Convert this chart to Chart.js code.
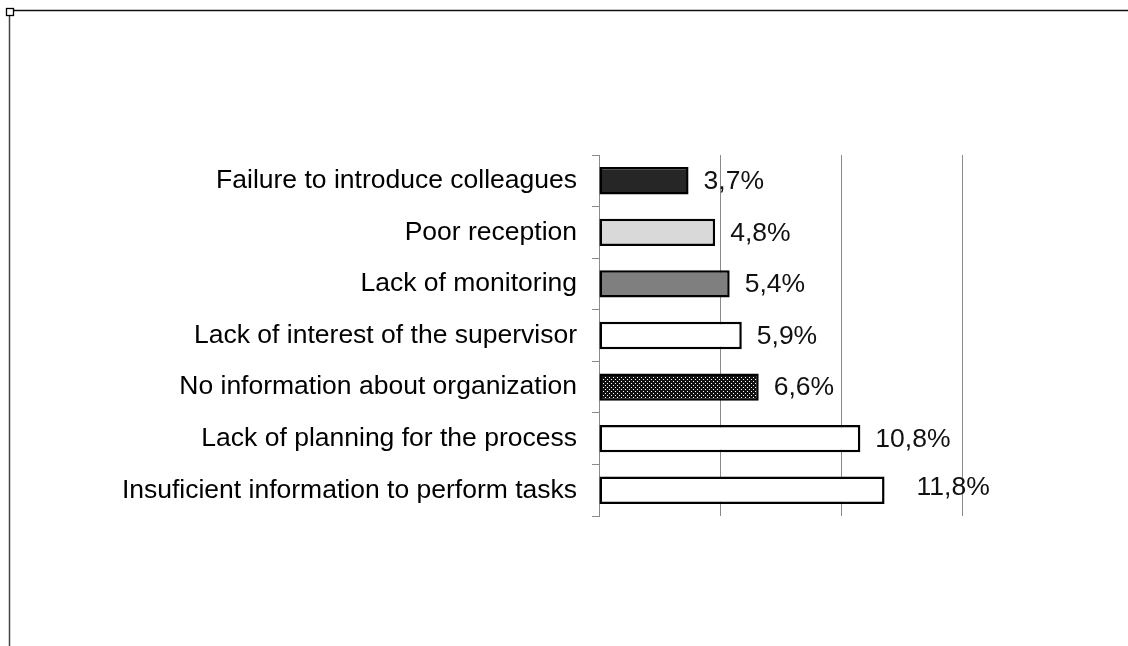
<!DOCTYPE html>
<html>
<head>
<meta charset="utf-8">
<script src="https://cdn.jsdelivr.net/npm/chart.js@4/dist/chart.umd.min.js"></script>
<style>
  html, body { margin: 0; padding: 0; background: #ffffff; }
  #wrap { width: 1128px; height: 646px; position: relative; }
</style>
</head>
<body>
<div id="wrap"><canvas id="c" width="1128" height="646"></canvas></div>
<script>
// ---- data ----
const categories = [
  "Failure to introduce colleagues",
  "Poor reception",
  "Lack of monitoring",
  "Lack of interest of the supervisor",
  "No information about organization",
  "Lack of planning for the process",
  "Insuficient information to perform tasks"
];
const percentValues = [3.7, 4.8, 5.4, 5.9, 6.6, 10.8, 11.8];
const axisTicks = [0, 5, 10, 15];

// ---- styles ----
function dotPattern() {
  const p = document.createElement('canvas');
  p.width = 4; p.height = 4;
  const g = p.getContext('2d');
  g.fillStyle = '#111111';
  g.fillRect(0, 0, 4, 4);
  g.fillStyle = '#ffffff';
  g.fillRect(1, 1, 1, 1);
  g.fillRect(3, 3, 1, 1);
  return document.getElementById('c').getContext('2d').createPattern(p, 'repeat');
}
const barFills = ['#262626', '#d9d9d9', '#7f7f7f', '#ffffff', dotPattern(), '#ffffff', '#ffffff'];
const labelDx = [0, 0, 0, 0, 0, 0, 17];
const labelDy = [0, 0, 0, 0, 0, 0, -4];
const FONT = '"Liberation Sans", Arial, sans-serif';

const valueLabels = {
  id: 'valueLabels',
  afterDatasetsDraw(chart) {
    const ctx = chart.ctx;
    const meta = chart.getDatasetMeta(0);
    ctx.save();
    ctx.font = '26.5px ' + FONT;
    ctx.fillStyle = '#111111';
    ctx.textAlign = 'left';
    ctx.textBaseline = 'middle';
    meta.data.forEach((bar, i) => {
      const txt = percentValues[i].toFixed(1).replace('.', ',') + '%';
      ctx.fillText(txt, bar.x + 15 + labelDx[i], bar.y + 1 + labelDy[i]);
    });
    ctx.restore();
  }
};

const frame = {
  id: 'frame',
  afterDraw(chart) {
    const ctx = chart.ctx;
    ctx.save();
    ctx.strokeStyle = '#111111';
    ctx.lineWidth = 1.5;
    ctx.beginPath();
    ctx.moveTo(14, 10.5);
    ctx.lineTo(1128, 10.5);
    ctx.stroke();
    ctx.strokeStyle = '#444444';
    ctx.beginPath();
    ctx.moveTo(9.5, 16);
    ctx.lineTo(9.5, 646);
    ctx.stroke();
    ctx.strokeStyle = '#000000';
    ctx.lineWidth = 1.3;
    ctx.strokeRect(6.5, 8.5, 7, 7);
    ctx.restore();
  }
};

new Chart(document.getElementById('c'), {
  type: 'bar',
  data: {
    labels: categories,
    datasets: [{
      data: percentValues,
      backgroundColor: barFills,
      borderColor: '#000000',
      borderWidth: 2.5,
      borderSkipped: false,
      barPercentage: 0.53,
      categoryPercentage: 1
    }]
  },
  options: {
    indexAxis: 'y',
    responsive: false,
    animation: false,
    devicePixelRatio: 1,
    layout: { padding: { left: 0, right: 166, top: 155, bottom: 130 } },
    plugins: { legend: { display: false }, tooltip: { enabled: false } },
    scales: {
      x: {
        min: axisTicks[0],
        max: axisTicks[axisTicks.length - 1],
        afterBuildTicks(scale) { scale.ticks = axisTicks.map(v => ({ value: v })); },
        ticks: { display: false },
        grid: { color: '#8a8a8a', lineWidth: 1, drawTicks: false },
        border: { display: false },
        afterFit(scale) { scale.height = 0; }
      },
      y: {
        offset: true,
        ticks: { color: '#000000', font: { family: FONT, size: 26.5 }, padding: 15 },
        grid: { offset: true, drawOnChartArea: false, drawTicks: true, tickLength: 7, color: '#8a8a8a' },
        border: { display: true, color: '#8a8a8a', width: 1 },
        afterFit(scale) { scale.width = 599; }
      }
    }
  },
  plugins: [valueLabels, frame]
});
</script>
</body>
</html>
